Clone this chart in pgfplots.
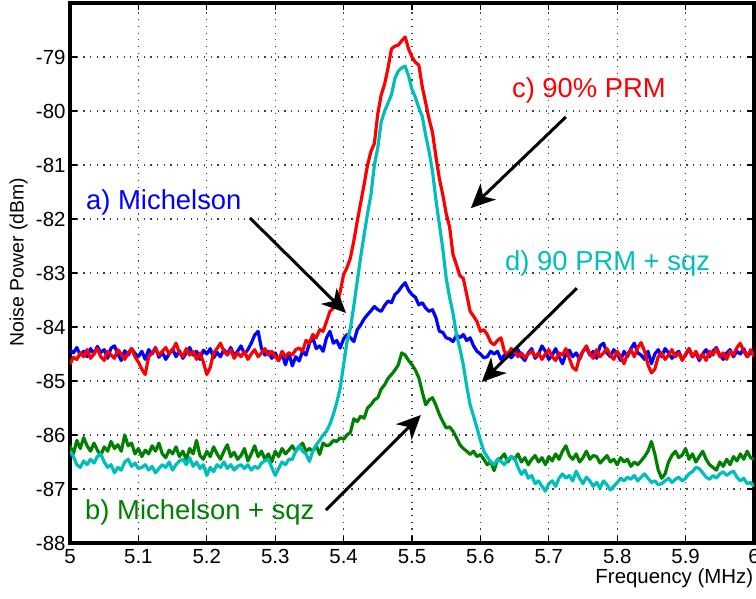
\documentclass[border=0pt]{standalone}
\usepackage{fontspec}
\setmainfont{Liberation Sans}
\usepackage{pgfplots}
\pgfplotsset{compat=1.18}
\usepackage{pgfplotstable}
\usetikzlibrary{arrows.meta}
\definecolor{cA}{RGB}{0,0,255}
\definecolor{cB}{RGB}{0,128,0}
\definecolor{cC}{RGB}{255,0,0}
\definecolor{cD}{RGB}{0,190,190}

\pgfplotstableread{
x y
5.000 -84.42
5.005 -84.48
5.010 -84.38
5.015 -84.52
5.020 -84.45
5.025 -84.55
5.030 -84.40
5.035 -84.50
5.040 -84.36
5.045 -84.47
5.050 -84.42
5.055 -84.58
5.060 -84.39
5.065 -84.35
5.070 -84.50
5.075 -84.62
5.080 -84.44
5.085 -84.52
5.090 -84.40
5.095 -84.49
5.100 -84.55
5.105 -84.45
5.110 -84.60
5.115 -84.42
5.120 -84.50
5.125 -84.38
5.130 -84.56
5.135 -84.47
5.140 -84.60
5.145 -84.50
5.150 -84.41
5.155 -84.55
5.160 -84.44
5.165 -84.58
5.170 -84.48
5.175 -84.38
5.180 -84.52
5.185 -84.45
5.190 -84.60
5.195 -84.43
5.200 -84.50
5.205 -84.40
5.210 -84.57
5.215 -84.47
5.220 -84.55
5.225 -84.42
5.230 -84.50
5.235 -84.38
5.240 -84.53
5.245 -84.45
5.250 -84.35
5.255 -84.50
5.260 -84.42
5.265 -84.30
5.270 -84.15
5.275 -84.08
5.280 -84.40
5.285 -84.52
5.290 -84.45
5.295 -84.58
5.300 -84.48
5.305 -84.62
5.310 -84.50
5.315 -84.70
5.320 -84.48
5.325 -84.72
5.330 -84.55
5.335 -84.63
5.340 -84.45
5.345 -84.52
5.350 -84.30
5.355 -84.20
5.360 -84.40
5.365 -84.35
5.370 -84.45
5.375 -84.20
5.380 -84.08
5.385 -84.30
5.390 -84.25
5.395 -84.39
5.400 -84.22
5.405 -84.14
5.410 -84.20
5.415 -84.27
5.420 -84.05
5.425 -83.96
5.430 -83.85
5.435 -83.77
5.440 -83.70
5.445 -83.62
5.450 -83.68
5.455 -83.71
5.460 -83.60
5.465 -83.52
5.470 -83.55
5.475 -83.40
5.480 -83.34
5.485 -83.25
5.490 -83.18
5.495 -83.32
5.500 -83.40
5.505 -83.45
5.510 -83.59
5.515 -83.55
5.520 -83.65
5.525 -83.71
5.530 -83.68
5.535 -83.83
5.540 -84.08
5.545 -84.10
5.550 -84.20
5.555 -84.22
5.560 -84.27
5.565 -84.15
5.570 -84.20
5.575 -84.14
5.580 -84.25
5.585 -84.20
5.590 -84.35
5.595 -84.45
5.600 -84.50
5.605 -84.57
5.610 -84.55
5.615 -84.45
5.620 -84.50
5.625 -84.45
5.630 -84.60
5.635 -84.52
5.640 -84.48
5.645 -84.57
5.650 -84.50
5.655 -84.42
5.660 -84.55
5.665 -84.62
5.670 -84.48
5.675 -84.40
5.680 -84.58
5.685 -84.50
5.690 -84.35
5.695 -84.45
5.700 -84.60
5.705 -84.52
5.710 -84.40
5.715 -84.55
5.720 -84.68
5.725 -84.50
5.730 -84.43
5.735 -84.55
5.740 -84.48
5.745 -84.60
5.750 -84.45
5.755 -84.38
5.760 -84.52
5.765 -84.45
5.770 -84.58
5.775 -84.35
5.780 -84.30
5.785 -84.48
5.790 -84.55
5.795 -84.42
5.800 -84.50
5.805 -84.62
5.810 -84.45
5.815 -84.55
5.820 -84.40
5.825 -84.30
5.830 -84.48
5.835 -84.52
5.840 -84.60
5.845 -84.45
5.850 -84.68
5.855 -84.50
5.860 -84.42
5.865 -84.55
5.870 -84.40
5.875 -84.48
5.880 -84.58
5.885 -84.50
5.890 -84.45
5.895 -84.60
5.900 -84.52
5.905 -84.40
5.910 -84.55
5.915 -84.48
5.920 -84.62
5.925 -84.50
5.930 -84.42
5.935 -84.55
5.940 -84.45
5.945 -84.38
5.950 -84.52
5.955 -84.60
5.960 -84.48
5.965 -84.42
5.970 -84.55
5.975 -84.45
5.980 -84.50
5.985 -84.40
5.990 -84.55
5.995 -84.48
6.000 -84.50
}\dataA

\pgfplotstableread{
x y
5.000 -86.20
5.005 -86.35
5.010 -86.10
5.015 -86.25
5.020 -86.05
5.025 -86.20
5.030 -86.30
5.035 -86.15
5.040 -86.28
5.045 -86.38
5.050 -86.22
5.055 -86.30
5.060 -86.12
5.065 -86.25
5.070 -86.18
5.075 -86.30
5.080 -86.00
5.085 -86.20
5.090 -86.15
5.095 -86.35
5.100 -86.25
5.105 -86.40
5.110 -86.28
5.115 -86.35
5.120 -86.20
5.125 -86.30
5.130 -86.15
5.135 -86.35
5.140 -86.42
5.145 -86.28
5.150 -86.35
5.155 -86.22
5.160 -86.40
5.165 -86.30
5.170 -86.45
5.175 -86.25
5.180 -86.35
5.185 -86.10
5.190 -86.38
5.195 -86.45
5.200 -86.30
5.205 -86.40
5.210 -86.22
5.215 -86.35
5.220 -86.45
5.225 -86.30
5.230 -86.18
5.235 -86.40
5.240 -86.32
5.245 -86.45
5.250 -86.38
5.255 -86.25
5.260 -86.48
5.265 -86.35
5.270 -86.20
5.275 -86.40
5.280 -86.30
5.285 -86.45
5.290 -86.35
5.295 -86.50
5.300 -86.30
5.305 -86.40
5.310 -86.25
5.315 -86.35
5.320 -86.28
5.325 -86.20
5.330 -86.30
5.335 -86.22
5.340 -86.15
5.345 -86.30
5.350 -86.25
5.355 -86.30
5.360 -86.20
5.365 -86.36
5.370 -86.15
5.375 -86.20
5.380 -86.18
5.385 -86.10
5.390 -86.12
5.395 -86.05
5.400 -86.08
5.405 -86.00
5.410 -85.95
5.415 -85.70
5.420 -85.75
5.425 -85.65
5.430 -85.69
5.435 -85.50
5.440 -85.44
5.445 -85.35
5.450 -85.31
5.455 -85.15
5.460 -85.07
5.465 -84.95
5.470 -84.88
5.475 -84.80
5.480 -84.70
5.485 -84.48
5.490 -84.52
5.495 -84.62
5.500 -84.70
5.505 -84.80
5.510 -84.94
5.515 -85.20
5.520 -85.44
5.525 -85.35
5.530 -85.31
5.535 -85.45
5.540 -85.62
5.545 -85.75
5.550 -85.87
5.555 -85.85
5.560 -85.93
5.565 -86.05
5.570 -86.18
5.575 -86.25
5.580 -86.30
5.585 -86.36
5.590 -86.30
5.595 -86.40
5.600 -86.36
5.605 -86.45
5.610 -86.55
5.615 -86.49
5.620 -86.66
5.625 -86.45
5.630 -86.43
5.635 -86.35
5.640 -86.50
5.645 -86.40
5.650 -86.45
5.655 -86.35
5.660 -86.50
5.665 -86.42
5.670 -86.55
5.675 -86.45
5.680 -86.38
5.685 -86.50
5.690 -86.42
5.695 -86.55
5.700 -86.40
5.705 -86.48
5.710 -86.35
5.715 -86.45
5.720 -86.30
5.725 -86.20
5.730 -86.38
5.735 -86.45
5.740 -86.35
5.745 -86.50
5.750 -86.42
5.755 -86.30
5.760 -86.45
5.765 -86.38
5.770 -86.40
5.775 -86.52
5.780 -86.45
5.785 -86.38
5.790 -86.50
5.795 -86.45
5.800 -86.55
5.805 -86.42
5.810 -86.50
5.815 -86.45
5.820 -86.58
5.825 -86.50
5.830 -86.55
5.835 -86.48
5.840 -86.40
5.845 -86.30
5.850 -86.12
5.855 -86.35
5.860 -86.65
5.865 -86.80
5.870 -86.72
5.875 -86.50
5.880 -86.38
5.885 -86.30
5.890 -86.42
5.895 -86.37
5.900 -86.25
5.905 -86.45
5.910 -86.35
5.915 -86.50
5.920 -86.40
5.925 -86.30
5.930 -86.45
5.935 -86.55
5.940 -86.60
5.945 -86.65
5.950 -86.50
5.955 -86.58
5.960 -86.45
5.965 -86.55
5.970 -86.40
5.975 -86.48
5.980 -86.35
5.985 -86.45
5.990 -86.30
5.995 -86.42
6.000 -86.45
}\dataB

\pgfplotstableread{
x y
5.000 -84.69
5.005 -84.56
5.010 -84.60
5.015 -84.48
5.020 -84.55
5.025 -84.42
5.030 -84.58
5.035 -84.50
5.040 -84.40
5.045 -84.55
5.050 -84.62
5.055 -84.45
5.060 -84.52
5.065 -84.58
5.070 -84.42
5.075 -84.50
5.080 -84.60
5.085 -84.48
5.090 -84.40
5.095 -84.55
5.100 -84.65
5.105 -84.78
5.110 -84.88
5.115 -84.55
5.120 -84.48
5.125 -84.40
5.130 -84.52
5.135 -84.45
5.140 -84.38
5.145 -84.50
5.150 -84.42
5.155 -84.30
5.160 -84.48
5.165 -84.55
5.170 -84.40
5.175 -84.52
5.180 -84.45
5.185 -84.60
5.190 -84.48
5.195 -84.65
5.200 -84.88
5.205 -84.75
5.210 -84.48
5.215 -84.40
5.220 -84.30
5.225 -84.45
5.230 -84.52
5.235 -84.42
5.240 -84.58
5.245 -84.48
5.250 -84.55
5.255 -84.45
5.260 -84.60
5.265 -84.50
5.270 -84.42
5.275 -84.55
5.280 -84.48
5.285 -84.40
5.290 -84.52
5.295 -84.45
5.300 -84.55
5.305 -84.62
5.310 -84.45
5.315 -84.55
5.320 -84.48
5.325 -84.52
5.330 -84.42
5.335 -84.39
5.340 -84.45
5.345 -84.25
5.350 -84.30
5.355 -84.14
5.360 -84.20
5.365 -84.05
5.370 -84.08
5.375 -83.90
5.380 -83.71
5.385 -83.65
5.390 -83.60
5.395 -83.35
5.400 -83.03
5.405 -82.90
5.410 -82.72
5.415 -82.40
5.420 -82.04
5.425 -81.70
5.430 -81.36
5.435 -81.00
5.440 -80.75
5.445 -80.60
5.450 -80.05
5.455 -79.70
5.460 -79.50
5.465 -79.20
5.470 -78.85
5.475 -78.80
5.480 -78.78
5.485 -78.70
5.490 -78.63
5.495 -78.85
5.500 -79.00
5.505 -79.10
5.510 -79.15
5.515 -79.55
5.520 -79.85
5.525 -80.15
5.530 -80.40
5.535 -80.85
5.540 -81.25
5.545 -81.55
5.550 -81.90
5.555 -82.15
5.560 -82.66
5.565 -82.85
5.570 -83.05
5.575 -83.10
5.580 -83.40
5.585 -83.71
5.590 -83.80
5.595 -83.90
5.600 -84.08
5.605 -84.05
5.610 -84.14
5.615 -84.28
5.620 -84.33
5.625 -84.25
5.630 -84.20
5.635 -84.45
5.640 -84.51
5.645 -84.40
5.650 -84.45
5.655 -84.55
5.660 -84.48
5.665 -84.57
5.670 -84.50
5.675 -84.45
5.680 -84.55
5.685 -84.48
5.690 -84.60
5.695 -84.50
5.700 -84.42
5.705 -84.55
5.710 -84.62
5.715 -84.48
5.720 -84.52
5.725 -84.40
5.730 -84.58
5.735 -84.75
5.740 -84.80
5.745 -84.55
5.750 -84.45
5.755 -84.35
5.760 -84.50
5.765 -84.58
5.770 -84.42
5.775 -84.55
5.780 -84.48
5.785 -84.40
5.790 -84.52
5.795 -84.60
5.800 -84.45
5.805 -84.55
5.810 -84.68
5.815 -84.50
5.820 -84.42
5.825 -84.55
5.830 -84.38
5.835 -84.29
5.840 -84.45
5.845 -84.70
5.850 -84.85
5.855 -84.78
5.860 -84.55
5.865 -84.48
5.870 -84.60
5.875 -84.52
5.880 -84.42
5.885 -84.55
5.890 -84.48
5.895 -84.62
5.900 -84.50
5.905 -84.40
5.910 -84.55
5.915 -84.45
5.920 -84.58
5.925 -84.50
5.930 -84.62
5.935 -84.45
5.940 -84.52
5.945 -84.40
5.950 -84.55
5.955 -84.48
5.960 -84.60
5.965 -84.45
5.970 -84.52
5.975 -84.38
5.980 -84.30
5.985 -84.45
5.990 -84.55
5.995 -84.42
6.000 -84.55
}\dataC

\pgfplotstableread{
x y
5.000 -86.30
5.005 -86.40
5.010 -86.55
5.015 -86.60
5.020 -86.48
5.025 -86.55
5.030 -86.45
5.035 -86.52
5.040 -86.40
5.045 -86.35
5.050 -86.50
5.055 -86.60
5.060 -86.55
5.065 -86.70
5.070 -86.60
5.075 -86.65
5.080 -86.50
5.085 -86.45
5.090 -86.58
5.095 -86.52
5.100 -86.62
5.105 -86.60
5.110 -86.55
5.115 -86.65
5.120 -86.58
5.125 -86.70
5.130 -86.62
5.135 -86.55
5.140 -86.60
5.145 -86.50
5.150 -86.65
5.155 -86.55
5.160 -86.48
5.165 -86.45
5.170 -86.55
5.175 -86.42
5.180 -86.58
5.185 -86.50
5.190 -86.62
5.195 -86.55
5.200 -86.75
5.205 -86.60
5.210 -86.68
5.215 -86.55
5.220 -86.60
5.225 -86.50
5.230 -86.62
5.235 -86.55
5.240 -86.65
5.245 -86.58
5.250 -86.55
5.255 -86.62
5.260 -86.55
5.265 -86.65
5.270 -86.58
5.275 -86.62
5.280 -86.52
5.285 -86.48
5.290 -86.45
5.295 -86.60
5.300 -86.75
5.305 -86.62
5.310 -86.50
5.315 -86.55
5.320 -86.45
5.325 -86.45
5.330 -86.30
5.335 -86.20
5.340 -86.30
5.345 -86.35
5.350 -86.49
5.355 -86.30
5.360 -86.18
5.365 -86.10
5.370 -86.00
5.375 -85.93
5.380 -85.80
5.385 -85.62
5.390 -85.40
5.395 -85.13
5.400 -84.70
5.405 -84.27
5.410 -84.02
5.415 -83.60
5.420 -83.15
5.425 -82.70
5.430 -82.29
5.435 -81.90
5.440 -81.55
5.445 -81.00
5.450 -80.68
5.455 -80.20
5.460 -80.00
5.465 -79.85
5.470 -79.70
5.475 -79.40
5.480 -79.26
5.485 -79.20
5.490 -79.17
5.495 -79.35
5.500 -79.60
5.505 -79.75
5.510 -79.94
5.515 -80.10
5.520 -80.45
5.525 -80.75
5.530 -81.12
5.535 -81.65
5.540 -82.10
5.545 -82.55
5.550 -83.10
5.555 -83.45
5.560 -83.75
5.565 -84.14
5.570 -84.40
5.575 -84.70
5.580 -85.10
5.585 -85.44
5.590 -85.65
5.595 -85.87
5.600 -86.10
5.605 -86.30
5.610 -86.40
5.615 -86.50
5.620 -86.55
5.625 -86.45
5.630 -86.49
5.635 -86.55
5.640 -86.45
5.645 -86.40
5.650 -86.43
5.655 -86.60
5.660 -86.73
5.665 -86.65
5.670 -86.80
5.675 -86.75
5.680 -86.90
5.685 -86.85
5.690 -86.95
5.695 -87.04
5.700 -86.90
5.705 -86.85
5.710 -86.95
5.715 -86.80
5.720 -86.72
5.725 -86.80
5.730 -86.75
5.735 -86.85
5.740 -86.67
5.745 -86.80
5.750 -86.90
5.755 -86.78
5.760 -86.85
5.765 -86.95
5.770 -86.88
5.775 -86.98
5.780 -86.85
5.785 -86.92
5.790 -87.02
5.795 -86.95
5.800 -86.88
5.805 -86.80
5.810 -86.85
5.815 -86.78
5.820 -86.82
5.825 -86.75
5.830 -86.85
5.835 -86.78
5.840 -86.72
5.845 -86.80
5.850 -86.88
5.855 -86.85
5.860 -86.92
5.865 -86.90
5.870 -86.85
5.875 -86.80
5.880 -86.88
5.885 -86.82
5.890 -86.78
5.895 -86.85
5.900 -86.80
5.905 -86.72
5.910 -86.68
5.915 -86.60
5.920 -86.62
5.925 -86.70
5.930 -86.78
5.935 -86.82
5.940 -86.75
5.945 -86.80
5.950 -86.72
5.955 -86.68
5.960 -86.75
5.965 -86.70
5.970 -86.67
5.975 -86.78
5.980 -86.85
5.985 -86.80
5.990 -86.90
5.995 -86.88
6.000 -86.95
}\dataD

\begin{document}
\begin{tikzpicture}
\begin{axis}[
  name=ax,
  scale only axis,
  width=684bp, height=540bp,
  xmin=5, xmax=6, ymin=-88, ymax=-78,
  xtick={5,5.1,...,6.01},
  ytick={-88,-87,...,-79},
  xticklabels={5,5.1,5.2,5.3,5.4,5.5,5.6,5.7,5.8,5.9,6},
  /pgf/number format/assume math mode=true,
  ticklabel style={font=\fontsize{20.5}{24}\selectfont},
  xticklabel style={yshift=-3bp},
  yticklabel style={xshift=-1bp},
  tick align=inside,
  major tick length=7bp,
  tick style={black, line width=1.2bp},
  axis line style={black, line width=3.5bp},
  grid=major,
  grid style={black!75, line width=1.1bp, dash pattern=on 1.2bp off 5.5bp},
  xlabel={Frequency (MHz)},
  xlabel style={at={(axis description cs:1.004,-0.066)}, anchor=east, font=\fontsize{20.5}{24}\selectfont},
  ylabel={Noise Power (dBm)},
  ylabel style={at={(axis description cs:-0.075,0.52)}, anchor=center, rotate=0, font=\fontsize{19.5}{23}\selectfont},
  every axis plot/.append style={line width=3.2bp, line join=round},
]
\addplot[cA] table {\dataA};
\addplot[cB] table {\dataB};
\addplot[cD] table {\dataD};
\addplot[cC] table {\dataC};

\node[anchor=west, text=cA, font=\fontsize{27.5}{31}\selectfont, inner sep=0pt] at (axis cs:5.0234,-81.685) {a) Michelson};
\node[anchor=west, text=cC, font=\fontsize{27.5}{31}\selectfont, inner sep=0pt] at (axis cs:5.646,-79.61) {c) 90\% PRM};
\node[anchor=west, text=cD, font=\fontsize{27.5}{31}\selectfont, inner sep=0pt] at (axis cs:5.636,-82.815) {d) 90 PRM + sqz};
\node[anchor=west, text=cB, font=\fontsize{27.5}{31}\selectfont, inner sep=0pt] at (axis cs:5.022,-87.43) {b) Michelson + sqz};

\draw[black, line width=3bp, -{Stealth[length=24bp, width=22bp, inset=7bp]}] (axis cs:5.263,-81.98) -- (axis cs:5.4035,-83.74);
\draw[black, line width=3bp, -{Stealth[length=24bp, width=22bp, inset=7bp]}] (axis cs:5.725,-80.11) -- (axis cs:5.586,-81.80);
\draw[black, line width=3bp, -{Stealth[length=24bp, width=22bp, inset=7bp]}] (axis cs:5.741,-83.28) -- (axis cs:5.602,-85.02);
\draw[black, line width=3bp, -{Stealth[length=24bp, width=22bp, inset=7bp]}] (axis cs:5.374,-87.39) -- (axis cs:5.513,-85.63);

\coordinate (bl) at (rel axis cs:0,0);
\coordinate (tr) at (rel axis cs:1,1);
\end{axis}
\pgfresetboundingbox
\path[use as bounding box] ([xshift=-70bp,yshift=-56bp]bl) rectangle ([xshift=2bp,yshift=3bp]tr);
\end{tikzpicture}
\end{document}
